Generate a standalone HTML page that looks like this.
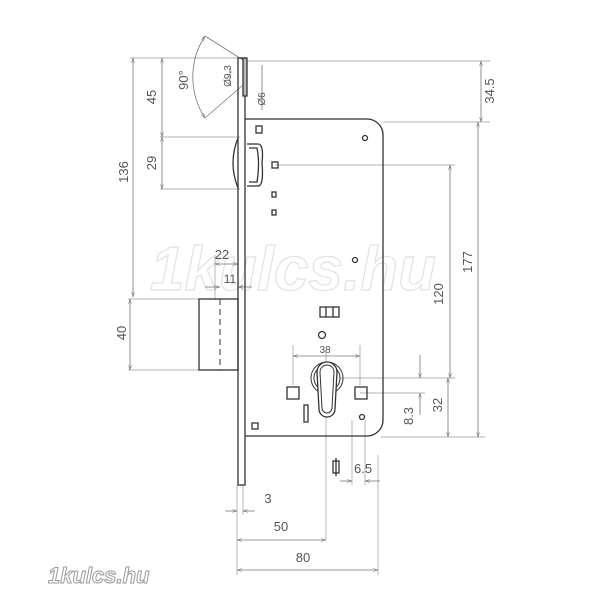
<!DOCTYPE html>
<html><head><meta charset="utf-8"><style>
html,body{margin:0;padding:0;background:#fff;width:600px;height:600px;overflow:hidden}
svg text{font-family:"Liberation Sans",sans-serif;fill:#555}
</style></head><body>
<svg width="600" height="600" viewBox="0 0 600 600" xmlns="http://www.w3.org/2000/svg">
<defs>
<marker id="a" viewBox="0 0 10 6" refX="10" refY="3" markerWidth="7" markerHeight="4" orient="auto-start-reverse"><path d="M0,0 L10,3 L0,6" fill="none" stroke="#777" stroke-width="1"/></marker>
</defs>
<text x="150" y="290" font-size="62" font-style="italic" font-weight="bold" style="fill:none;stroke:#e2e2e2;stroke-width:1.2">1kulcs.hu</text>
<g stroke="#999" stroke-width="0.7" fill="none">
<line x1="130" y1="58" x2="240" y2="58"/>
<line x1="247" y1="61" x2="490" y2="61"/>
<line x1="383" y1="122" x2="490" y2="122"/>
<line x1="160" y1="137" x2="240" y2="137"/>
<line x1="160" y1="189" x2="240" y2="189"/>
<line x1="275" y1="165" x2="455" y2="165"/>
<line x1="128" y1="299" x2="199" y2="299"/>
<line x1="128" y1="370" x2="199" y2="370"/>
<line x1="340" y1="378" x2="455" y2="378"/>
<line x1="360" y1="393" x2="425" y2="393"/>
<line x1="381" y1="437" x2="485" y2="437"/>
<line x1="237" y1="485" x2="237" y2="575"/>
<line x1="243" y1="485" x2="243" y2="515"/>
<line x1="326" y1="350" x2="326" y2="540"/>
<line x1="378" y1="455" x2="378" y2="575"/>
<line x1="352" y1="420" x2="352" y2="485"/>
<line x1="365" y1="420" x2="365" y2="485"/>
<line x1="293" y1="345" x2="293" y2="385"/>
<line x1="360" y1="345" x2="360" y2="385"/>
<line x1="215" y1="255" x2="215" y2="300"/>
</g>
<g stroke="#777" stroke-width="0.8" fill="none">
<line x1="133" y1="58" x2="133" y2="297" marker-start="url(#a)" marker-end="url(#a)"/>
<line x1="162" y1="58" x2="162" y2="137" marker-start="url(#a)" marker-end="url(#a)"/>
<line x1="162" y1="137" x2="162" y2="189" marker-start="url(#a)" marker-end="url(#a)"/>
<line x1="130" y1="299" x2="130" y2="370" marker-start="url(#a)" marker-end="url(#a)"/>
<line x1="481" y1="61" x2="481" y2="122" marker-start="url(#a)" marker-end="url(#a)"/>
<line x1="478" y1="122" x2="478" y2="437" marker-start="url(#a)" marker-end="url(#a)"/>
<line x1="450" y1="165" x2="450" y2="378" marker-start="url(#a)" marker-end="url(#a)"/>
<line x1="448" y1="378" x2="448" y2="437" marker-start="url(#a)" marker-end="url(#a)"/>
<line x1="420" y1="355" x2="420" y2="378" marker-end="url(#a)"/>
<line x1="420" y1="415" x2="420" y2="393" marker-end="url(#a)"/>
<line x1="293" y1="356" x2="360" y2="356" marker-start="url(#a)" marker-end="url(#a)"/>
<line x1="215" y1="264" x2="238" y2="264" marker-start="url(#a)" marker-end="url(#a)"/>
<line x1="205" y1="287" x2="220" y2="287" marker-end="url(#a)"/>
<line x1="252" y1="287" x2="238" y2="287" marker-end="url(#a)"/>
<line x1="225" y1="511" x2="237" y2="511" marker-end="url(#a)"/>
<line x1="255" y1="511" x2="243" y2="511" marker-end="url(#a)"/>
<line x1="237" y1="540" x2="326" y2="540" marker-start="url(#a)" marker-end="url(#a)"/>
<line x1="237" y1="570" x2="378" y2="570" marker-start="url(#a)" marker-end="url(#a)"/>
<line x1="340" y1="481" x2="352" y2="481" marker-end="url(#a)"/>
<line x1="380" y1="481" x2="365" y2="481" marker-end="url(#a)"/>
<line x1="262" y1="65" x2="262" y2="110"/>
<line x1="230" y1="68" x2="230" y2="84"/>
<path d="M205,36 A75,75 0 0 0 205,118" marker-start="url(#a)" marker-end="url(#a)"/>
<line x1="205" y1="36" x2="243" y2="60"/>
<line x1="205" y1="118" x2="243" y2="85"/>
</g>
<g stroke="#333" stroke-width="1.3" fill="none">
<rect x="238" y="58" width="7" height="427"/>
<rect x="243" y="58" width="4" height="38" fill="#bbb"/>
<path d="M245,119 H367 A16,16 0 0 1 383,135 V420 A16,16 0 0 1 367,436 H245"/>
<rect x="199" y="299" width="39" height="71"/>
<line x1="220" y1="299" x2="220" y2="370" stroke-dasharray="6,4" stroke-width="1"/>
<path d="M238,138 Q228,163 238,188"/>
<path d="M247,144 H258 Q264,144 262,163 Q264,186 258,186 H247"/>
<path d="M249,148 H257 Q260,163 257,182 H249"/>
<rect x="256" y="126" width="6" height="7"/>
<rect x="272" y="162" width="6" height="6"/>
<rect x="272" y="192" width="4" height="5"/>
<rect x="272" y="210" width="4" height="5"/>
<circle cx="365" cy="138" r="2.5"/>
<circle cx="355" cy="260" r="2.5"/>
<rect x="320" y="307" width="19" height="10"/>
<line x1="326" y1="307" x2="326" y2="317"/>
<line x1="333" y1="307" x2="333" y2="317"/>
<circle cx="322" cy="335" r="3.5"/>
<circle cx="327" cy="378" r="16" stroke-width="1"/>
<circle cx="327" cy="378" r="13" stroke-width="1"/>
<path d="M317,372 A10,10 0 0 1 337,372 L335,409 A8,8 0 0 1 319,409 Z" fill="#fff"/>
<path d="M320,372 A7,7 0 0 1 334,372 L332,408 A5,5 0 0 1 322,408 Z" stroke-width="1"/>
<rect x="287" y="387" width="12" height="12"/>
<rect x="355" y="387" width="12" height="12"/>
<rect x="304" y="405" width="4" height="17"/>
<circle cx="362" cy="417" r="2.5"/>
<rect x="252" y="423" width="6" height="6"/>
<rect x="333" y="461" width="6" height="12"/>
<line x1="336" y1="458" x2="336" y2="476"/>
</g>
<g font-size="13">
<text transform="translate(128,172) rotate(-90)" text-anchor="middle">136</text>
<text transform="translate(156,97) rotate(-90)" text-anchor="middle">45</text>
<text transform="translate(156,163) rotate(-90)" text-anchor="middle">29</text>
<text transform="translate(126,333) rotate(-90)" text-anchor="middle">40</text>
<text transform="translate(188,80) rotate(-90)" text-anchor="middle">90°</text>
<text transform="translate(231,76) rotate(-90)" text-anchor="middle" font-size="10">Ø9,3</text>
<text transform="translate(265,99) rotate(-90)" text-anchor="middle" font-size="10">Ø6</text>
<text x="222" y="259" text-anchor="middle">22</text>
<text x="230" y="283" text-anchor="middle" font-size="12">11</text>
<text x="325" y="353" text-anchor="middle" font-size="10">38</text>
<text transform="translate(443,294) rotate(-90)" text-anchor="middle">120</text>
<text transform="translate(472,262) rotate(-90)" text-anchor="middle">177</text>
<text transform="translate(494,91) rotate(-90)" text-anchor="middle">34.5</text>
<text transform="translate(442,405) rotate(-90)" text-anchor="middle">32</text>
<text transform="translate(413,416) rotate(-90)" text-anchor="middle">8.3</text>
<text x="354" y="473" font-size="13">6.5</text>
<text x="268" y="503" text-anchor="middle">3</text>
<text x="281" y="531" text-anchor="middle">50</text>
<text x="303" y="562" text-anchor="middle">80</text>
</g>
<text x="48" y="583" font-size="22" font-style="italic" font-weight="bold" style="fill:#fff;stroke:#999;stroke-width:1">1kulcs.hu</text>
</svg>
</body></html>
